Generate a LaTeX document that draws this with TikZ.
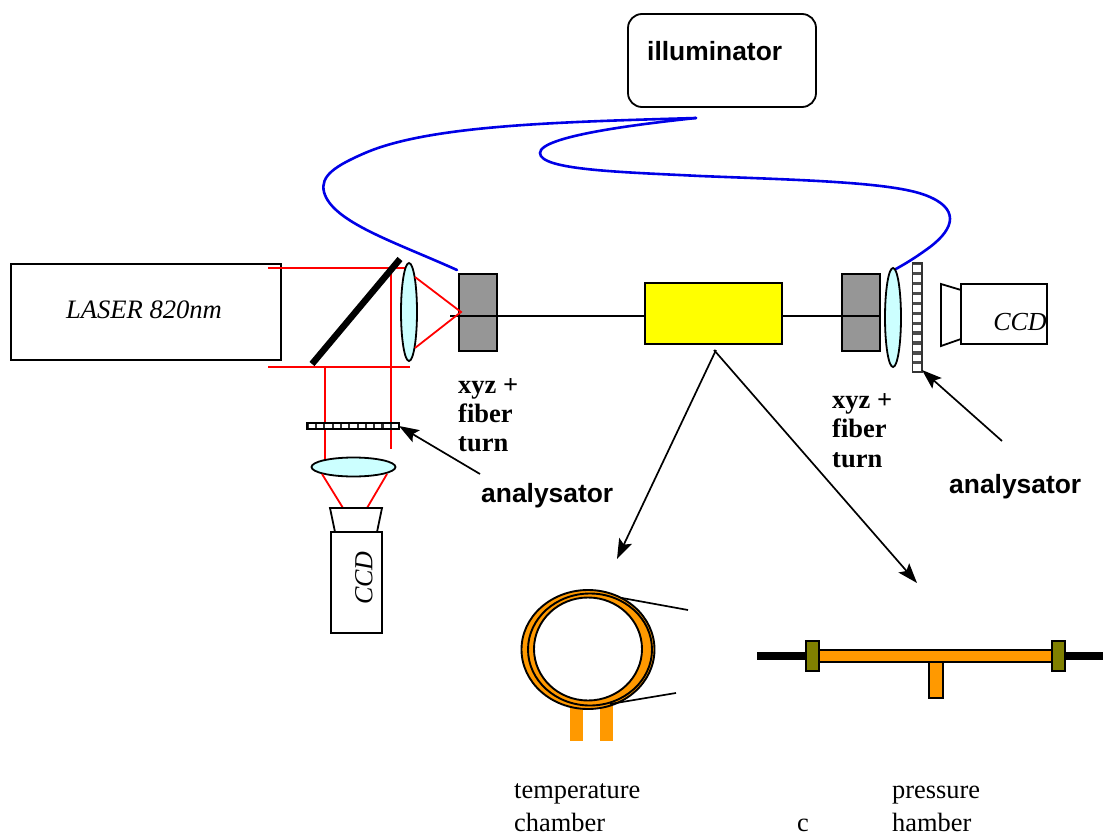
\documentclass[tikz,border=0pt]{standalone}
\usepackage{fontspec}
\setmainfont{Liberation Serif}
\newfontfamily\arialf{Liberation Sans}
\usetikzlibrary{arrows.meta,shapes.geometric}
\definecolor{lenscol}{HTML}{CCFFFF}
\definecolor{greycol}{HTML}{969696}
\definecolor{orangecol}{HTML}{FF9900}
\definecolor{olivecol}{HTML}{808000}
\definecolor{bluecol}{HTML}{0000E6}
\definecolor{yellowcol}{HTML}{FFFF00}
\tikzset{
  ln/.style={line width=1.8pt,draw=black},
  rbox/.style={ln,rectangle,inner sep=0pt,outer sep=0pt},
  redray/.style={draw=red,line width=1.8pt},
  fiberline/.style={draw=bluecol,line width=2.6pt,line cap=round},
  thinline/.style={draw=black,line width=1.7pt},
  pointer/.style={draw=black,line width=1.7pt,-{Stealth[length=20pt,width=14pt,inset=4pt]}},
  lens/.style={ln,ellipse,fill=lenscol,inner sep=0pt,outer sep=0pt},
  serifl/.style={anchor=base west,inner sep=0pt,font=\fontsize{26.4}{30}\selectfont},
  serifb/.style={anchor=base west,inner sep=0pt,font=\fontsize{26.5}{30}\selectfont\bfseries},
  sansb/.style={anchor=base west,inner sep=0pt,font=\arialf\fontsize{26.4}{30}\selectfont\bfseries},
  ital/.style={inner sep=0pt,font=\fontsize{26.6}{30}\selectfont\itshape},
  orangepart/.style={rectangle,fill=orangecol,inner sep=0pt,outer sep=0pt},
}
\begin{document}
\begin{tikzpicture}[x=1pt,y=-1pt]
\useasboundingbox (0,0) rectangle (1103,835);
% illuminator
\node (illum) [rbox,rounded corners=14pt,minimum width=188pt,minimum height=93pt] at (722,60.5) {};
\node (illumt) [sansb] at (647,60) {illuminator};
% fibres
\coordinate (fibtop) at (696,118);
\coordinate (fibL) at (457,270);
\coordinate (fibR) at (894,270);
\draw[fiberline] (fibtop) .. controls (560,122) and (430,125) .. (365,153)
  .. controls (335,166) and (320,176) .. (324,192)
  .. controls (332,222) and (395,242) .. (fibL);
\draw[fiberline] (fibtop) .. controls (640,124) and (540,136) .. (540,153)
  .. controls (540,170) and (620,172) .. (700,176)
  .. controls (800,180) and (890,182) .. (925,195)
  .. controls (960,208) and (955,228) .. (930,247)
  .. controls (915,258) and (905,264) .. (fibR);
% laser
\node (laser) [rbox,minimum width=270pt,minimum height=96pt] at (146,312) {};
\node (lasert) [ital] at (144,310) {LASER 820nm};
% red rays
\coordinate (rt1) at (268,268); \coordinate (rt2) at (405,268);
\coordinate (rb1) at (268,367); \coordinate (rb2) at (410,367);
\coordinate (rv1) at (391,268); \coordinate (rv1b) at (391,449);
\coordinate (rv2) at (325,367); \coordinate (rv2b) at (325,460);
\draw[redray] (rt1) -- (rt2);
\draw[redray] (rb1) -- (rb2);
\draw[redray] (rv1) -- (rv1b);
\draw[redray] (rv2) -- (rv2b);
% mirror
\coordinate (mira) at (312,364); \coordinate (mirb) at (400,259);
\draw[line width=6.5pt] (mira) -- (mirb);
% fibre line
\coordinate (fl0) at (450,316); \coordinate (fl1) at (880,316);
\node (yellow) [rbox,fill=yellowcol,minimum width=137pt,minimum height=61pt] at (713.5,313.5) {};
\node (greyL) [rbox,fill=greycol,minimum width=38pt,minimum height=77pt] at (478,312.5) {};
\node (greyR) [rbox,fill=greycol,minimum width=38pt,minimum height=77pt] at (861,312.5) {};
\draw[thinline] (fl0) -- (yellow.west |- fl0);
\draw[thinline] (yellow.east |- fl1) -- (fl1);
% left lens
\node (lensL) [lens,minimum width=16pt,minimum height=98pt] at (409,312) {};
\coordinate (foc) at (461,312);
\coordinate (fa) at (415,277); \coordinate (fb) at (415,348);
\draw[redray] (fa) -- (foc) -- (fb);
% right lens
\node (lensR) [lens,minimum width=16pt,minimum height=99pt] at (893,317.5) {};
% vertical analyser
\node (anaR) [rectangle,draw=black!80,line width=1.5pt,fill=black!70,inner sep=0pt,minimum width=9.5pt,minimum height=109pt] at (917,317.5) {};
\foreach \i in {0,...,10} \fill[white] (913.2,265.4+9.9*\i) rectangle (920.8,272+9.9*\i);
% horizontal analyser
\node (anaB) [rectangle,draw=black,line width=1.7pt,fill=black!80,inner sep=0pt,outer sep=0pt,minimum width=92pt,minimum height=6pt] at (353,426) {};
\foreach \i in {0,...,10} \fill[white] (308.8+8.3*\i,424.3) rectangle (315+8.3*\i,427.7);
% CCD right
\node (ccdR) [rbox,minimum width=86pt,minimum height=60pt] at (1004,314) {};
\draw[ln,line join=miter] (961,290) -- (941,284) -- (941,346) -- (961,339);
\node (ccdRt) [ital,font=\fontsize{26}{30}\selectfont\itshape] at (1020,322) {CCD};
% bottom lens and CCD
\node (lensB) [lens,minimum width=84pt,minimum height=19pt] at (353.5,467) {};
\coordinate (ra) at (322,474); \coordinate (rb) at (343,508);
\coordinate (rc) at (387,474); \coordinate (rd) at (367,508);
\draw[redray] (ra) -- (rb);
\draw[redray] (rc) -- (rd);
\node (ccdB) [rbox,minimum width=51pt,minimum height=101pt] at (356.5,582.5) {};
\draw[ln] (335,532) -- (330,508) -- (382,508) -- (377,532);
\node (ccdBt) [ital,font=\fontsize{26}{30}\selectfont\itshape,rotate=90] at (364,578) {CCD};
% pointers
\coordinate (p1) at (480,474);
\draw[pointer] (p1) -- (anaB.east);
\coordinate (p2) at (1002,441); \coordinate (p2e) at (922,370);
\draw[pointer] (p2) -- (p2e);
\coordinate (yb) at (716,350); \coordinate (ye1) at (617,559);
\draw[pointer] (yb) -- (ye1);
\coordinate (yc) at (714,350); \coordinate (ye2) at (917,583);
\draw[pointer] (yc) -- (ye2);
% labels
\node (xl1) [serifb] at (458,393) {xyz +};
\node (xl2) [serifb] at (458,422) {fiber};
\node (xl3) [serifb] at (458,451) {turn};
\node (xr1) [serifb] at (832,408) {xyz +};
\node (xr2) [serifb] at (832,437) {fiber};
\node (xr3) [serifb] at (832,467) {turn};
\node (analL) [sansb] at (481,502) {analysator};
\node (analR) [sansb] at (949,493) {analysator};
% temperature chamber
\node (foot1) [orangepart,minimum width=13pt,minimum height=38pt] at (576.5,722) {};
\node (foot2) [orangepart,minimum width=13pt,minimum height=38pt] at (606.5,722) {};
\node (ringO) [ellipse,draw=black,line width=1.9pt,fill=orangecol,minimum width=133pt,minimum height=119pt,inner sep=0pt] at (588,649.5) {};
\node (ringM) [ellipse,draw=black,line width=1.9pt,minimum width=124pt,minimum height=112pt,inner sep=0pt] at (590,649.5) {};
\node (ringI) [ellipse,draw=black,line width=1.9pt,fill=white,minimum width=108pt,minimum height=103pt,inner sep=0pt] at (588,649) {};
\coordinate (w1) at (622,598); \coordinate (w1e) at (688,610);
\coordinate (w2) at (610,704); \coordinate (w2e) at (676,693);
\draw[thinline] (w1) -- (w1e);
\draw[thinline] (w2) -- (w2e);
% pressure chamber
\coordinate (pa) at (757,656); \coordinate (pb) at (1103,656);
\draw[line width=8pt] (pa) -- (pb);
\node (stem) [rbox,fill=orangecol,minimum width=13.5pt,minimum height=36pt] at (936,680) {};
\node (pbar) [rbox,fill=orangecol,minimum width=234pt,minimum height=12pt] at (935.5,656) {};
\node (clampL) [rbox,fill=olivecol,minimum width=13pt,minimum height=30pt] at (812.5,656) {};
\node (clampR) [rbox,fill=olivecol,minimum width=13pt,minimum height=30pt] at (1058.5,656) {};
% captions
\node (c1) [serifl] at (514,798) {temperature};
\node (c2) [serifl] at (514,831) {chamber};
\node (c3) [serifl] at (797,831) {c};
\node (c4) [serifl] at (892,798) {pressure};
\node (c5) [serifl] at (892,831) {hamber};
\end{tikzpicture}
\end{document}
